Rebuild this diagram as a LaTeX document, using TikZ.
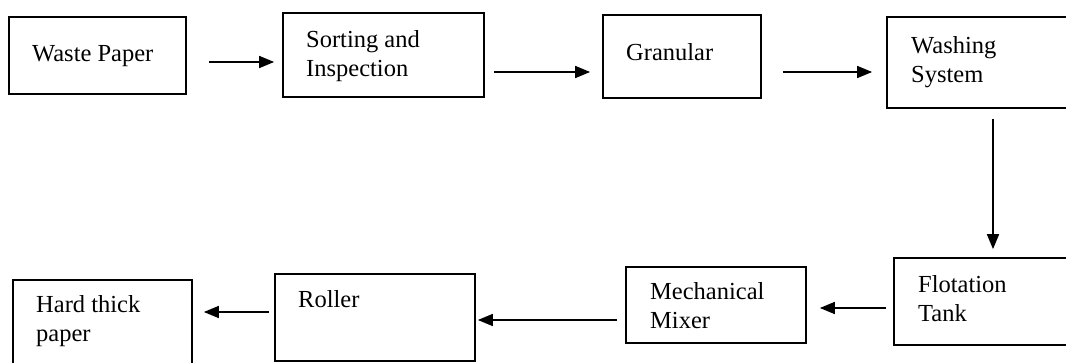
\documentclass[tikz,border=0pt]{standalone}
\usepackage{fontspec}
\setmainfont{Liberation Serif}
\usetikzlibrary{arrows.meta}

\begin{document}
\begin{tikzpicture}[x=1pt,y=-1pt,
    box/.style={draw,line width=1.7pt,inner sep=0pt},
    txt/.style={anchor=base west,align=left,inner sep=0pt,font=\fontsize{24.5}{29}\selectfont},
    flow/.style={line width=1.6pt,-{Triangle[length=15pt,width=12pt]}}]
        \useasboundingbox (0,0) rectangle (1066,363);

        % top row
        \node [box,minimum width=177pt,minimum height=77pt] (wp) at (97.5,55.5) {};
        \node [box,minimum width=201pt,minimum height=84pt] (si) at (383.5,55) {};
        \node [box,minimum width=158pt,minimum height=83pt] (gr) at (682,56.5) {};
        \node [box,minimum width=193pt,minimum height=91pt] (ws) at (983.5,62.5) {};
        \node [txt] (wpt) at (32,62) {Waste Paper};
        \node [txt] (sit) at (306,77) {Sorting and\\Inspection};
        \node [txt] (grt) at (626,61) {Granular};
        \node [txt] (wst) at (911,83) {Washing\\System};

        % bottom row
        \node [box,minimum width=186pt,minimum height=87pt] (ft) at (987,301.5) {};
        \node [box,minimum width=180pt,minimum height=76pt] (mm) at (716,305) {};
        \node [box,minimum width=200pt,minimum height=87pt] (ro) at (375,317.5) {};
        \node [box,minimum width=179pt,minimum height=95pt] (hp) at (102.5,327.5) {};
        \node [txt] (ftt) at (918,322) {Flotation\\Tank};
        \node [txt] (mmt) at (650,329) {Mechanical\\Mixer};
        \node [txt] (rot) at (298,308) {Roller};
        \node [txt] (hpt) at (36,342) {Hard thick\\paper};

        % arrows
        \draw [flow,shorten <=22pt,shorten >=8pt] ([yshift=-6.5pt]wp.east) -- ([yshift=-6.5pt]wp.east -| si.west);
        \draw [flow,shorten <=9pt,shorten >=12pt] ([yshift=-17pt]si.east) -- ([yshift=-17pt]si.east -| gr.west);
        \draw [flow,shorten <=21pt,shorten >=14pt] ([yshift=-15.5pt]gr.east) -- ([yshift=-15.5pt]gr.east -| ws.west);
        \draw [flow,shorten <=10pt,shorten >=8pt] ([xshift=9.5pt]ws.south) -- ([xshift=9.5pt]ws.south |- ft.north);
        \draw [flow,shorten <=7pt,shorten >=13pt] ([yshift=-6.5pt]ft.west) -- ([yshift=-6.5pt]ft.west -| mm.east);
        \draw [flow,shorten <=8pt,shorten >=2pt] ([yshift=-15pt]mm.west) -- ([yshift=-15pt]mm.west -| ro.east);
        \draw [flow,shorten <=5pt,shorten >=11pt] ([yshift=5.5pt]ro.west) -- ([yshift=5.5pt]ro.west -| hp.east);
\end{tikzpicture}
\end{document}
